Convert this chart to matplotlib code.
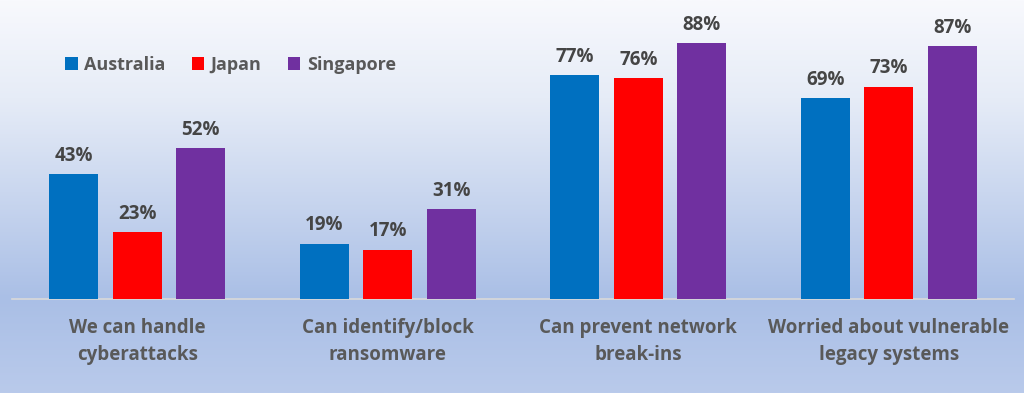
import numpy as np
import matplotlib
matplotlib.use("Agg")
import matplotlib.pyplot as plt
from matplotlib.colors import LinearSegmentedColormap
from matplotlib.patches import Patch

categories = ["We can handle\ncyberattacks", "Can identify/block\nransomware",
              "Can prevent network\nbreak-ins", "Worried about vulnerable\nlegacy systems"]
series_names = ["Australia", "Japan", "Singapore"]
australia = [43, 19, 77, 69]
japan = [23, 17, 76, 73]
singapore = [52, 31, 88, 87]
values = [australia, japan, singapore]
colors = ["#0070C0", "#FF0000", "#7030A0"]

plt.rcParams['font.family'] = ['Open Sans', 'DejaVu Sans']
text_color = "#595959"
label_color = "#454545"

W, H = 1024, 393
fig = plt.figure(figsize=(W / 100, H / 100), dpi=100)

# background gradient
bg = fig.add_axes([0, 0, 1, 1], zorder=-10)
cmap = LinearSegmentedColormap.from_list(
    "bg", [(0.0, "#F8F9FD"), (0.25, "#E6ECF7"), (0.76, "#AABFE6"), (1.0, "#B9CAEB")])
grad = np.linspace(0, 1, 256).reshape(-1, 1)
bg.imshow(grad, aspect="auto", cmap=cmap, extent=[0, 1, 0, 1], origin="upper")
bg.axis("off")

left, right, base = 12, 1014, 299
ax = fig.add_axes([left / W, (H - base) / H, (right - left) / W, base / H])
ax.patch.set_alpha(0)
ax.set_ylim(0, base / 2.907)
ax.set_xlim(-0.5, len(categories) - 0.5)

x = np.arange(len(categories))
offsets = [-0.253, 0.0, 0.253]
width = 0.196
for vals, name, c, off in zip(values, series_names, colors, offsets):
    bars = ax.bar(x + off, vals, width, color=c, label=name, zorder=3)
    for b, v in zip(bars, vals):
        ax.annotate(f"{v}%", (b.get_x() + b.get_width() / 2, v),
                    xytext=(0, 6), textcoords="offset points",
                    ha="center", va="bottom", fontsize=13.5, fontweight="bold",
                    color=label_color)

for s in ["top", "right", "left"]:
    ax.spines[s].set_visible(False)
ax.spines["bottom"].set_color("#D9D9D9")
ax.spines["bottom"].set_linewidth(1.2)
ax.set_yticks([])
ax.set_xticks(x)
ax.set_xticklabels(categories, fontsize=13.5, fontweight="bold", color=text_color,
                   linespacing=1.45)
ax.tick_params(axis="x", length=0, pad=14)

handles = [Patch(facecolor=c, label=n) for c, n in zip(colors, series_names)]
leg = fig.legend(handles=handles, loc="center left", ncol=3, frameon=False,
                 bbox_to_anchor=(49 / W, 1 - 65 / H),
                 handlelength=0.7, handleheight=0.7, handletextpad=0.35,
                 columnspacing=1.45, prop={"weight": "bold", "size": 13})
for t in leg.get_texts():
    t.set_color(text_color)

fig.savefig("out.png", dpi=100)
